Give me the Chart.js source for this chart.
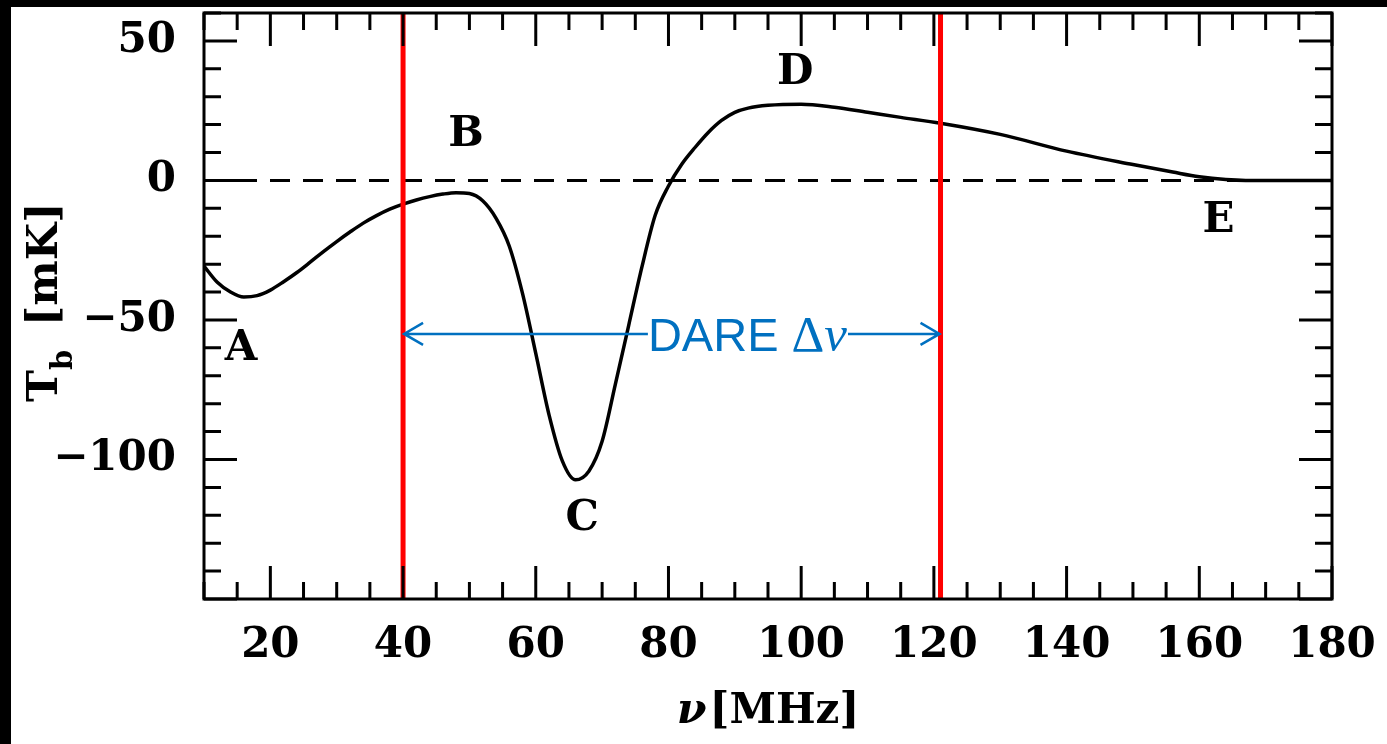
<!DOCTYPE html>
<html>
<head>
<meta charset="utf-8">
<script src="https://cdn.jsdelivr.net/npm/chart.js@4.4.1/dist/chart.umd.min.js"></script>
<style>
  html, body { margin: 0; padding: 0; background: #fff; }
  #wrap { width: 1387px; height: 744px; position: relative; }
</style>
</head>
<body>
<div id="wrap"><canvas id="tbChart"></canvas></div>
<script>
// ---------------------------
// Values
// ---------------------------
let freq = [10, 12, 14, 16, 18, 20, 22, 24, 26, 28, 30, 32, 34, 36, 38, 40, 42, 44, 46, 48,
    50, 52, 54, 56, 58, 60, 62, 64, 66, 68, 70, 72, 74, 76, 78, 80, 82, 84, 86, 88, 90, 92,
    95, 100, 105, 110, 115, 121, 130, 140, 150, 156, 160, 164, 167, 170, 180];
let tb = [-30.7, -36.5, -40, -41.8, -41.3, -39.3, -36.3, -33, -29.3, -25.5, -21.9, -18.5,
    -15.3, -12.6, -10.3, -8.5, -7, -5.8, -4.9, -4.4, -4.7, -7.3, -13.5, -23.5, -40.5, -62,
    -84, -100.5, -107.3, -104.2, -93.5, -73, -52, -31, -12.5, -2, 5.8, 11.8, 17.2, 21.5,
    24.4, 25.9, 26.9, 27.3, 26.2, 24.4, 22.6, 20.5, 16.5, 10.5, 5.7, 3, 1.3, 0.3, 0, 0, 0];

let xTickValues = [20, 40, 60, 80, 100, 120, 140, 160, 180];
let yTickValues = [-100, -50, 0, 50];

let bandEdges = [40, 121];      // DARE band edges, MHz
let arrowLevel = -55;           // mK, height of the double arrow
let dareTextFreq = 76.9;        // MHz, where "DARE" starts

let markerNames = ['A', 'B', 'C', 'D', 'E'];
let markerFreq = [15.6, 49.5, 67.0, 99.1, 162.9];
let markerTb = [-60.6, 16.1, -121.3, 38.4, -14.7];

// ---------------------------
// Extra drawing: frame, ticks, labels, arrow
// ---------------------------
let serif = '"DejaVu Serif", serif';

function drawTicks(ctx, area, xs, ys) {
    ctx.save();
    ctx.strokeStyle = '#000';
    ctx.lineWidth = 3;
    ctx.beginPath();
    for (let v = 10; v <= 180; v += 5) {
        let px = xs.getPixelForValue(v);
        let len = (v % 20 == 0) ? 33 : 17;
        ctx.moveTo(px, area.bottom);
        ctx.lineTo(px, area.bottom - len);
        ctx.moveTo(px, area.top);
        ctx.lineTo(px, area.top + len);
    }
    for (let v = -150; v <= 60; v += 10) {
        let py = ys.getPixelForValue(v);
        let len = (v % 50 == 0) ? 33 : 17;
        ctx.moveTo(area.left, py);
        ctx.lineTo(area.left + len, py);
        ctx.moveTo(area.right, py);
        ctx.lineTo(area.right - len, py);
    }
    ctx.stroke();
    ctx.strokeRect(area.left, area.top, area.right - area.left, area.bottom - area.top);
    ctx.restore();
}

function drawDareArrow(ctx, xs, ys) {
    let blue = '#0070c0';
    let x0 = xs.getPixelForValue(bandEdges[0]);
    let x1 = xs.getPixelForValue(bandEdges[1]);
    let y = ys.getPixelForValue(arrowLevel);
    let tx = xs.getPixelForValue(dareTextFreq);

    ctx.save();
    ctx.fillStyle = blue;
    ctx.textAlign = 'left';
    ctx.textBaseline = 'alphabetic';
    ctx.font = '47px "Liberation Sans", Arial, sans-serif';
    let base = y + 0.716 * 47 / 2;
    ctx.fillText('DARE', tx, base);
    let cx = tx + ctx.measureText('DARE ').width;
    ctx.font = '51px "Liberation Serif", "Times New Roman", serif';
    ctx.fillText('\u0394', cx, base);
    cx += ctx.measureText('\u0394').width;
    ctx.font = 'italic 51px "Liberation Serif", "Times New Roman", serif';
    ctx.fillText('\u03bd', cx, base);
    cx += ctx.measureText('\u03bd').width;

    ctx.strokeStyle = blue;
    ctx.lineWidth = 2.5;
    ctx.beginPath();
    ctx.moveTo(x0 + 1, y);
    ctx.lineTo(tx, y);
    ctx.moveTo(cx + 1, y);
    ctx.lineTo(x1 - 1, y);
    // open arrow heads
    ctx.moveTo(x0 + 20, y - 11);
    ctx.lineTo(x0 + 1, y);
    ctx.lineTo(x0 + 20, y + 11);
    ctx.moveTo(x1 - 20, y - 11);
    ctx.lineTo(x1 - 1, y);
    ctx.lineTo(x1 - 20, y + 11);
    ctx.stroke();
    ctx.restore();
}

function drawMarkers(ctx, xs, ys) {
    ctx.save();
    ctx.fillStyle = '#000';
    ctx.textAlign = 'center';
    ctx.textBaseline = 'middle';
    ctx.font = 'bold 42px ' + serif;
    for (let i = 0; i < markerNames.length; i++) {
        ctx.fillText(markerNames[i], xs.getPixelForValue(markerFreq[i]), ys.getPixelForValue(markerTb[i]));
    }
    ctx.restore();
}

function drawTitles(ctx, area) {
    ctx.save();
    ctx.fillStyle = '#000';
    ctx.textBaseline = 'alphabetic';
    ctx.textAlign = 'left';

    // x title: nu[MHz]
    ctx.font = 'italic bold 43px ' + serif;
    let wNu = ctx.measureText('\u03bd').width;
    ctx.font = 'bold 42px ' + serif;
    let wUnit = ctx.measureText('[MHz]').width;
    let start = (area.left + area.right) / 2 - (wNu + 3 + wUnit) / 2;
    let base = area.bottom + 124;
    ctx.font = 'italic bold 43px ' + serif;
    ctx.fillText('\u03bd', start, base);
    ctx.font = 'bold 42px ' + serif;
    ctx.fillText('[MHz]', start + wNu + 3, base);

    // y title: T_b [mK], rotated
    ctx.translate(57, 402);
    ctx.rotate(-Math.PI / 2);
    ctx.font = 'bold 43px ' + serif;
    ctx.fillText('T', 0, 0);
    let wT = ctx.measureText('T').width;
    ctx.font = 'bold 29px ' + serif;
    ctx.fillText('b', wT, 15);
    ctx.font = 'bold 43px ' + serif;
    ctx.fillText('[mK]', 76, 0);
    ctx.restore();
}

let decorPlugin = {
    id: 'decor',
    beforeDraw(chart) {
        let ctx = chart.ctx;
        ctx.save();
        ctx.fillStyle = '#fff';
        ctx.fillRect(0, 0, chart.width, chart.height);
        ctx.fillStyle = '#000';
        ctx.fillRect(0, 0, chart.width, 7);
        ctx.fillRect(0, 0, 11, chart.height);
        ctx.restore();
    },
    afterDatasetsDraw(chart) {
        let xs = chart.scales.x, ys = chart.scales.y;
        drawDareArrow(chart.ctx, xs, ys);
        drawMarkers(chart.ctx, xs, ys);
    },
    afterDraw(chart) {
        drawTicks(chart.ctx, chart.chartArea, chart.scales.x, chart.scales.y);
        drawTitles(chart.ctx, chart.chartArea);
    }
};

// ---------------------------
// Chart
// ---------------------------
let curvePoints = freq.map(function (f, i) { return { x: f, y: tb[i] }; });

let tickFont = { family: serif, size: 42, weight: 'bold' };

let ctx = document.getElementById('tbChart').getContext('2d');
let myChart = new Chart(ctx, {
    type: 'line',
    data: {
        datasets: [{
            label: 'band low',
            data: [{ x: bandEdges[0], y: -150 }, { x: bandEdges[0], y: 60 }],
            borderColor: '#ff0000',
            borderWidth: 5,
            pointRadius: 0,
            order: 0
        }, {
            label: 'band high',
            data: [{ x: bandEdges[1], y: -150 }, { x: bandEdges[1], y: 60 }],
            borderColor: '#ff0000',
            borderWidth: 5,
            pointRadius: 0,
            order: 0
        }, {
            label: 'Tb',
            data: curvePoints,
            borderColor: '#000',
            borderWidth: 3.5,
            pointRadius: 0,
            cubicInterpolationMode: 'monotone',
            order: 1
        }, {
            label: 'zero',
            data: [{ x: 10, y: 0 }, { x: 180, y: 0 }],
            borderColor: '#000',
            borderWidth: 3,
            borderDash: [20, 13],
            pointRadius: 0,
            order: 2
        }]
    },
    options: {
        responsive: true,
        maintainAspectRatio: false,
        animation: false,
        layout: { padding: { top: 13, right: 55, left: 0, bottom: 0 } },
        plugins: {
            legend: { display: false },
            tooltip: { enabled: false }
        },
        scales: {
            x: {
                type: 'linear',
                min: 10,
                max: 180,
                grid: { display: false },
                border: { display: false },
                afterBuildTicks: function (s) {
                    s.ticks = xTickValues.map(function (v) { return { value: v }; });
                },
                afterFit: function (s) {
                    s.height = 145;
                    s.paddingLeft = 0;
                    s.paddingRight = 0;
                },
                ticks: {
                    font: tickFont,
                    color: '#000',
                    padding: 14,
                    maxRotation: 0,
                    autoSkip: false
                }
            },
            y: {
                type: 'linear',
                min: -150,
                max: 60,
                grid: { display: false },
                border: { display: false },
                afterBuildTicks: function (s) {
                    s.ticks = yTickValues.map(function (v) { return { value: v }; });
                },
                afterFit: function (s) {
                    s.width = 204;
                    s.paddingTop = 0;
                    s.paddingBottom = 0;
                },
                ticks: {
                    font: tickFont,
                    color: '#000',
                    padding: 20,
                    autoSkip: false,
                    callback: function (v) {
                        return v < 0 ? '\u2212' + Math.abs(v) : '' + v;
                    }
                }
            }
        }
    },
    plugins: [decorPlugin]
});
</script>
</body>
</html>
